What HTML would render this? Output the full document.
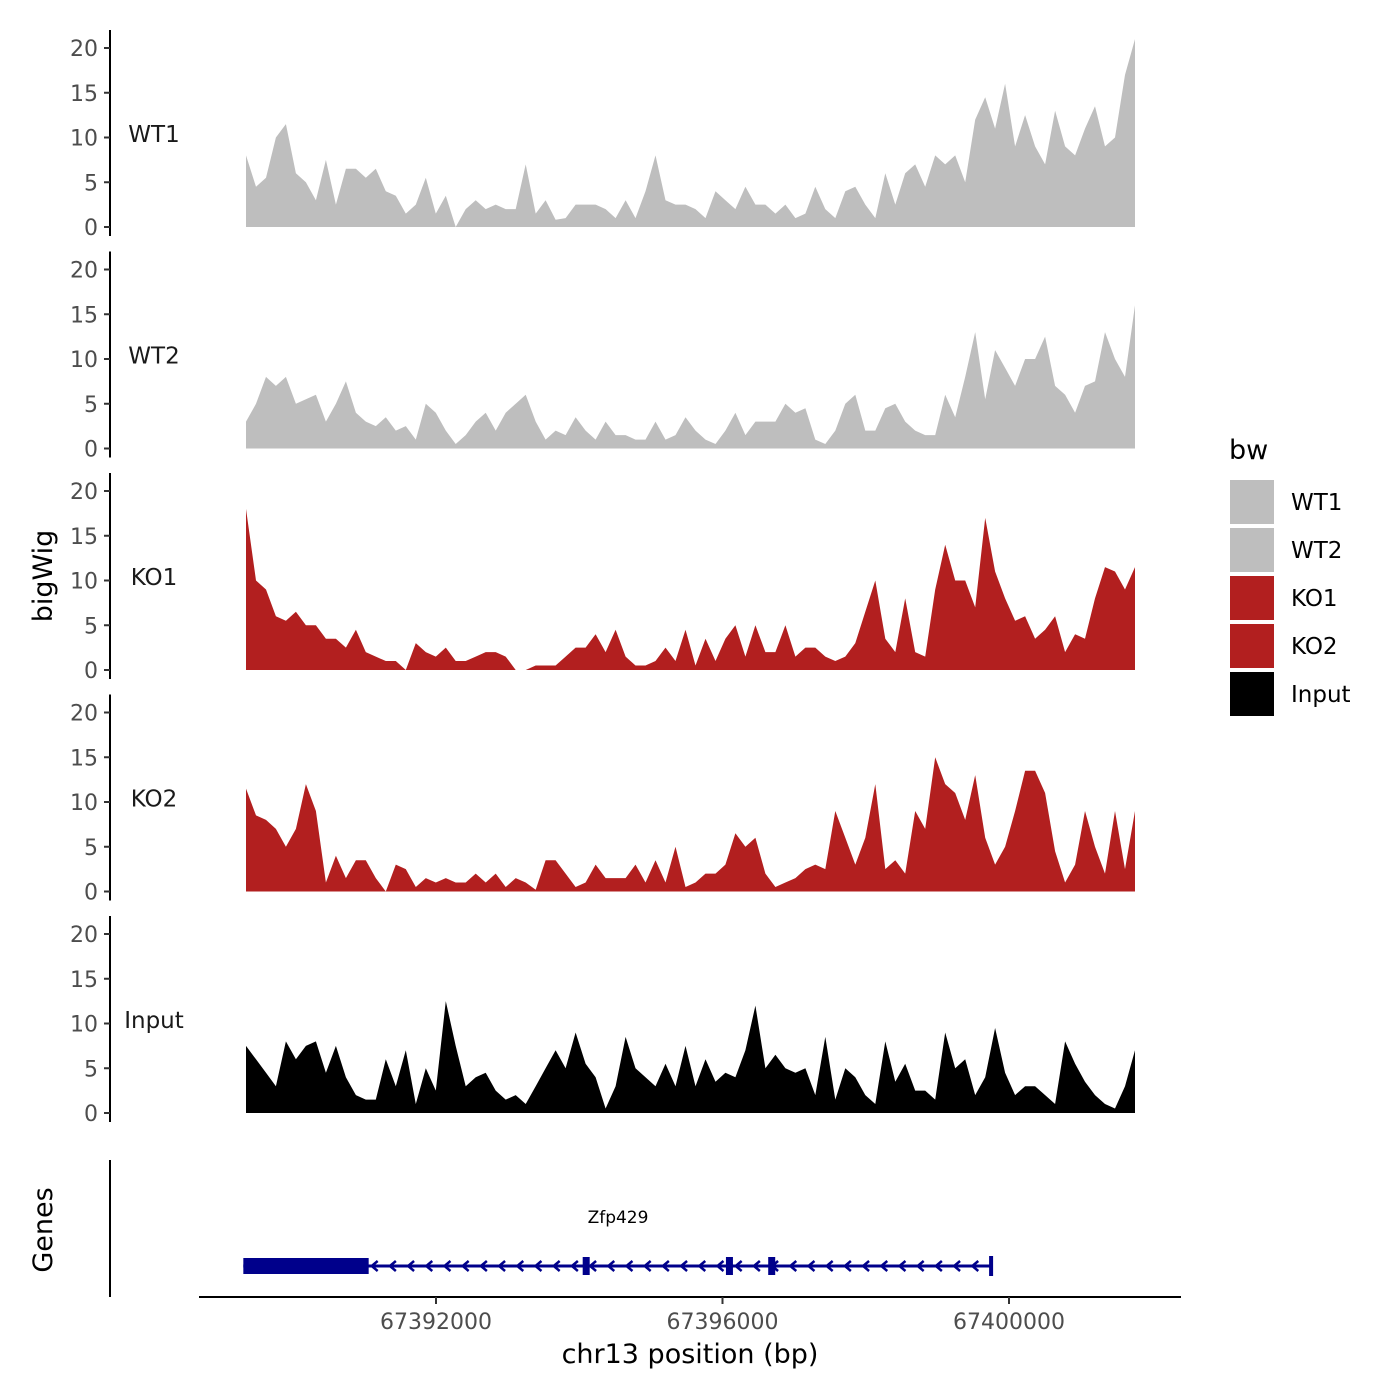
<!DOCTYPE html>
<html><head><meta charset="utf-8"><style>
html,body{margin:0;padding:0;background:#fff}
svg{display:block;font-family:"DejaVu Sans","Liberation Sans",sans-serif}
</style></head><body>
<svg id="chart" width="1400" height="1400" viewBox="0 0 1400 1400" xmlns="http://www.w3.org/2000/svg">
<g id="panels"></g>
<text transform="translate(52,576) rotate(-90)" text-anchor="middle" font-size="27" fill="#000">bigWig</text>
<text transform="translate(52,1230) rotate(-90)" text-anchor="middle" font-size="27" fill="#000">Genes</text>
<line x1="110" y1="1160" x2="110" y2="1297" stroke="#000" stroke-width="2"/>
<g id="genes"></g>
<line x1="199" y1="1297" x2="1181" y2="1297" stroke="#000" stroke-width="2"/>
<g id="xticks"></g>
<text x="690" y="1363" text-anchor="middle" font-size="27" fill="#000">chr13 position (bp)</text>
<g>
<text x="1229" y="459" font-size="27" fill="#000">bw</text>
<rect x="1230" y="480" width="44" height="44" fill="#bebebe"/>
<rect x="1230" y="528" width="44" height="44" fill="#bebebe"/>
<rect x="1230" y="576" width="44" height="44" fill="#b21f1f"/>
<rect x="1230" y="624" width="44" height="44" fill="#b21f1f"/>
<rect x="1230" y="672" width="44" height="44" fill="#000"/>
<text x="1291" y="510" font-size="23">WT1</text>
<text x="1291" y="558" font-size="23">WT2</text>
<text x="1291" y="606" font-size="23">KO1</text>
<text x="1291" y="654" font-size="23">KO2</text>
<text x="1291" y="702" font-size="23">Input</text>
</g>
</svg>
<script>
const sampleNames = ["WT1","WT2","KO1","KO2","Input"];
const sampleColors = ["#bebebe","#bebebe","#b21f1f","#b21f1f","#000000"];
const yTicks = [0,5,10,15,20];
const xTickValues = [67392000,67396000,67400000];
const startBp = 67389347, endBp = 67401759;
const wt1 = [8,4.5,5.5,10,11.5,6,5,3,7.5,2.5,6.5,6.5,5.5,6.5,4,3.5,1.5,2.5,5.5,1.5,3.5,0,2,3,2,2.5,2,2,7,1.5,3,0.8,1,2.5,2.5,2.5,2,1,3,1,4,8,3,2.5,2.5,2,1,4,3,2,4.5,2.5,2.5,1.5,2.5,1,1.5,4.5,2,1,4,4.5,2.5,1,6,2.5,6,7,4.5,8,7,8,5,12,14.5,11,16,9,12.5,9,7,13,9,8,11,13.5,9,10,17,21];
const wt2 = [3,5,8,7,8,5,5.5,6,3,5,7.5,4,3,2.5,3.5,2,2.5,1,5,4,2,0.5,1.5,3,4,2,4,5,6,3,1,2,1.5,3.5,2,1,3,1.5,1.5,1,1,3,1,1.5,3.5,2,1,0.5,2,4,1.5,3,3,3,5,4,4.5,1,0.5,2,5,6,2,2,4.5,5,3,2,1.5,1.5,6,3.5,8,13,5.5,11,9,7,10,10,12.5,7,6,4,7,7.5,13,10,8,16];
const ko1 = [18,10,9,6,5.5,6.5,5,5,3.5,3.5,2.5,4.5,2,1.5,1,1,0,3,2,1.5,2.5,1,1,1.5,2,2,1.5,0,0,0.5,0.5,0.5,1.5,2.5,2.5,4,2,4.5,1.5,0.5,0.5,1,2.5,1,4.5,0.5,3.5,1,3.5,5,1.5,5,2,2,5,1.5,2.5,2.5,1.5,1,1.5,3,6.5,10,3.5,2,8,2,1.5,9,14,10,10,7,17,11,8,5.5,6,3.5,4.5,6,2,4,3.5,8,11.5,11,9,11.5];
const ko2 = [11.5,8.5,8,7,5,7,12,9,1,4,1.5,3.5,3.5,1.5,0,3,2.5,0.5,1.5,1,1.5,1,1,2,1,2,0.5,1.5,1,0.2,3.5,3.5,2,0.5,1,3,1.5,1.5,1.5,3,1,3.5,1,5,0.5,1,2,2,3,6.5,5,6,2,0.5,1,1.5,2.5,3,2.5,9,6,3,6,12,2.5,3.5,2,9,7,15,12,11,8,13,6,3,5,9,13.5,13.5,11,4.5,1,3,9,5,2,9,2.5,9];
const inputVals = [7.5,6,4.5,3,8,6,7.5,8,4.5,7.5,4,2,1.5,1.5,6,3,7,1,5,2.5,12.5,7.5,3,4,4.5,2.5,1.5,2,1,3,5,7,5,9,5.5,4,0.5,3,8.5,5,4,3,5.5,3,7.5,3,6,3.5,4.5,4,7,12,5,6.5,5,4.5,5,2,8.5,1.5,5,4,2,1,8,3.5,5.5,2.5,2.5,1.5,9,5,6,2,4,9.5,4.5,2,3,3,2,1,8,5.5,3.5,2,1,0.5,3,7];
const seriesList = [wt1,wt2,ko1,ko2,inputVals];
const geneName = "Zfp429";
const geneStartBp = 67389310, geneEndBp = 67399750;
const utrEndBp = 67391060;
const exonStartsBp = [67394090,67396090,67396680];

const NS="http://www.w3.org/2000/svg";
function xScale(bp){return 436 + (bp-67392000)*(286.5/4000);}
function idxToBp(i,n){return startBp + i*(endBp-startBp)/(n-1);}
function mk(tag,attrs,parent){const e=document.createElementNS(NS,tag);for(const k in attrs)e.setAttribute(k,attrs[k]);parent.appendChild(e);return e;}
const panels=document.getElementById('panels');
seriesList.forEach((vals,k)=>{
  const zero=227+221.5*k;
  const yScale=v=>zero - v*8.95;
  const g=mk('g',{},panels);
  
  
  const ax=mk('line',{x1:110,y1:zero-197,x2:110,y2:zero+9,stroke:'#000','stroke-width':2},g);
  
  
  yTicks.forEach(t=>{
    const tl=mk('line',{x1:104,y1:yScale(t),x2:110,y2:yScale(t),stroke:'#333','stroke-width':2},g);
    
    
    const tx=mk('text',{x:98,y:yScale(t)+8,'text-anchor':'end','font-size':22,fill:'#4d4d4d'},g);
    
    
    tx.textContent=t;
  });
  const lbl=mk('text',{x:154,y:zero-85,'text-anchor':'middle','font-size':23,fill:'#1a1a1a'},g);
  
  
  lbl.textContent=sampleNames[k];
  let d='M'+xScale(idxToBp(0,vals.length)).toFixed(1)+','+zero;
  vals.forEach((v,i)=>{d+=' L'+xScale(idxToBp(i,vals.length)).toFixed(1)+','+yScale(v).toFixed(1);});
  d+=' L'+xScale(idxToBp(vals.length-1,vals.length)).toFixed(1)+','+zero+' Z';
  const area=mk('path',{d:d,fill:sampleColors[k]},g);
  
  
});
const gg=document.getElementById('genes');
const gy=1266;
const gl=mk('line',{x1:xScale(geneStartBp),y1:gy,x2:xScale(geneEndBp),y2:gy,stroke:'#00008b','stroke-width':3},gg);


const utr=mk('rect',{x:xScale(geneStartBp),y:1258,width:xScale(utrEndBp)-xScale(geneStartBp),height:16,fill:'#00008b'},gg);


exonStartsBp.forEach(b=>{
  const ex=mk('rect',{x:xScale(b)-3,y:1257,width:7,height:18,fill:'#00008b'},gg);
  
  
});
const endTick=mk('rect',{x:xScale(geneEndBp)-2,y:1256,width:4,height:20,fill:'#00008b'},gg);


for(let x=xScale(utrEndBp)+3;x<xScale(geneEndBp)-8;x+=18.2){
  const ar=mk('path',{d:`M${x+6},${gy-5} L${x},${gy} L${x+6},${gy+5}`,stroke:'#00008b','stroke-width':2.5,fill:'none'},gg);
  
  
}
const gt=mk('text',{x:618,y:1223,'text-anchor':'middle','font-size':17,fill:'#000'},gg);


gt.textContent=geneName;
const xt=document.getElementById('xticks');
xTickValues.forEach(v=>{
  const l=mk('line',{x1:xScale(v),y1:1297,x2:xScale(v),y2:1304,stroke:'#333','stroke-width':2},xt);
  
  
  const t=mk('text',{x:xScale(v),y:1329,'text-anchor':'middle','font-size':22,fill:'#4d4d4d'},xt);
  
  
  t.textContent=v;
});
</script>
</body></html>
